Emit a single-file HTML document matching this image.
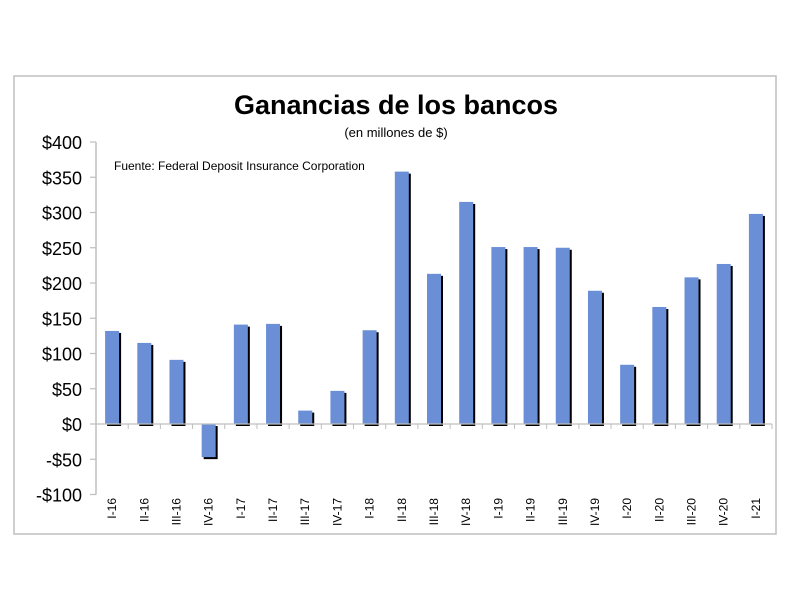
<!DOCTYPE html>
<html><head><meta charset="utf-8"><style>
body{margin:0;background:#fff;}
svg{display:block;font-family:"Liberation Sans",sans-serif;}
</style></head><body>
<svg width="792" height="612">
<rect x="14" y="76" width="762" height="458" fill="#fff" stroke="#bfbfbf" stroke-width="1.5"/>
<text x="396" y="114" text-anchor="middle" font-size="27" font-weight="bold">Ganancias de los bancos</text>
<text x="396" y="137" text-anchor="middle" font-size="13">(en millones de $)</text>
<text x="114" y="170" font-size="12">Fuente: Federal Deposit Insurance Corporation</text>
<g id="plot"></g>
</svg>
<script>
const categories=["I-16","II-16","III-16","IV-16","I-17","II-17","III-17","IV-17","I-18","II-18","III-18","IV-18","I-19","II-19","III-19","IV-19","I-20","II-20","III-20","IV-20","I-21"];
const values=[132,115,91,-47,141,142,19,47,133,358,213,315,251,251,250,189,84,166,208,227,298];
const yTicks=[400,350,300,250,200,150,100,50,0,-50,-100];
const yTickLabels=["$400","$350","$300","$250","$200","$150","$100","$50","$0","-$50","-$100"];
const NS="http://www.w3.org/2000/svg";
const g=document.getElementById('plot');
const x0=96,x1=772,yTop=142,yZero=424;
const y=v=>yZero-(v)*(yZero-yTop)/400;
const bw=(x1-x0)/categories.length;
function mk(t,a){const e=document.createElementNS(NS,t);for(const k in a)e.setAttribute(k,a[k]);g.appendChild(e);return e;}
let ax=mk('line',{x1:x0,x2:x0,y1:y(400),y2:y(-100),stroke:'#bfbfbf','stroke-width':1.5});


yTicks.forEach((v,i)=>{
 let t=mk('line',{x1:x0-6,x2:x0,y1:y(v),y2:y(v),stroke:'#bfbfbf','stroke-width':1.2});
 
 
 let l=mk('text',{x:x0-14,y:y(v)+7,'text-anchor':'end','font-size':18});
 l.textContent=yTickLabels[i];
 
 
});
values.forEach((v,i)=>{
 const cx=x0+bw*(i+0.5),w=14;
 const top=Math.min(y(v),yZero),h=Math.abs(y(v)-yZero);
 let s=mk('rect',{x:cx-w/2+2,y:top+2,width:w,height:h,fill:'#000'});
 
 
 let b=mk('rect',{x:cx-w/2,y:top,width:w,height:h,fill:'#6a8fd6'});
 
 
 let l=mk('text',{x:0,y:0,'text-anchor':'end','font-size':12,transform:`translate(${cx+4},498) rotate(-90)`});
 l.textContent=categories[i];
 
 
});
let xa=mk('line',{x1:x0,x2:x1,y1:yZero,y2:yZero,stroke:'#bfbfbf','stroke-width':1.2});


for(let i=1;i<=categories.length;i++){
 let t=mk('line',{x1:x0+bw*i,x2:x0+bw*i,y1:yZero,y2:yZero+5,stroke:'#bfbfbf','stroke-width':1});
 
 
}
</script>
</body></html>
